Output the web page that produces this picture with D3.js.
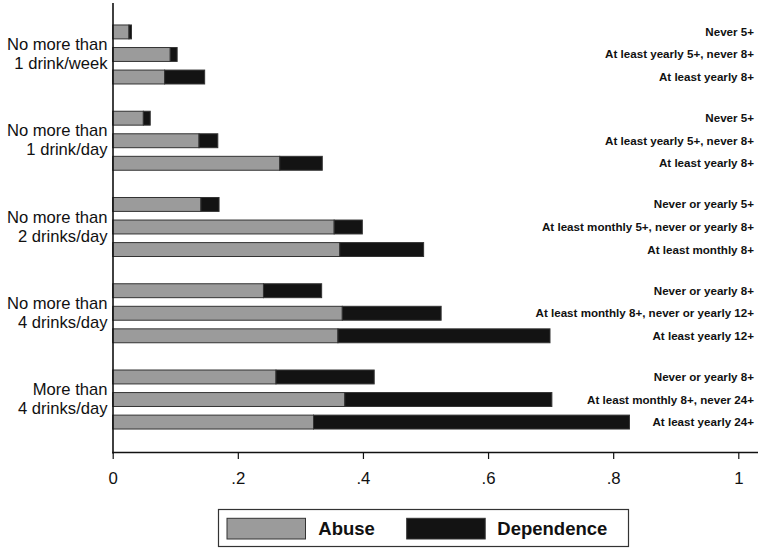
<!DOCTYPE html>
<html>
<head>
<meta charset="utf-8">
<script src="https://cdn.jsdelivr.net/npm/d3@7"></script>
<style>
  html, body { margin: 0; padding: 0; background: #fff; }
  svg { display: block; font-family: "Liberation Sans", Arial, sans-serif; }
</style>
</head>
<body>
<svg id="chart" width="761" height="548"></svg>
<script>
const groups = [
  ["No more than", "1 drink/week"],
  ["No more than", "1 drink/day"],
  ["No more than", "2 drinks/day"],
  ["No more than", "4 drinks/day"],
  ["More than", "4 drinks/day"]
];
const groupKeys = ["g1", "g2", "g3", "g4", "g5"];
const subLabels = [
  ["Never 5+", "At least yearly 5+, never 8+", "At least yearly 8+"],
  ["Never 5+", "At least yearly 5+, never 8+", "At least yearly 8+"],
  ["Never or yearly 5+", "At least monthly 5+, never or yearly 8+", "At least monthly 8+"],
  ["Never or yearly 8+", "At least monthly 8+, never or yearly 12+", "At least yearly 12+"],
  ["Never or yearly 8+", "At least monthly 8+, never 24+", "At least yearly 24+"]
];
const abuse = [
  [0.026, 0.092, 0.083],
  [0.049, 0.138, 0.267],
  [0.141, 0.354, 0.363],
  [0.241, 0.367, 0.360],
  [0.261, 0.371, 0.321]
];
const dependence = [
  [0.004, 0.011, 0.064],
  [0.011, 0.030, 0.068],
  [0.029, 0.045, 0.134],
  [0.093, 0.158, 0.339],
  [0.157, 0.331, 0.505]
];
const xTicks = [0, 0.2, 0.4, 0.6, 0.8, 1];
const xTickLabels = ["0", ".2", ".4", ".6", ".8", "1"];
const seriesNames = ["Abuse", "Dependence"];
const colors = ["#9b9b9b", "#131313"];

const svg = d3.select("#chart");
const x = d3.scaleLinear().domain([0, 1]).range([112.7, 738.3]);
const y = d3.scaleBand().domain(groupKeys).range([11.35, 442.65])
  .paddingInner(0.316).paddingOuter(0.158);
const yInner = d3.scaleBand().domain([0, 1, 2]).range([0, y.bandwidth()])
  .paddingInner(0.383).paddingOuter(0);

// bars
groupKeys.forEach((gk, gi) => {
  const g = svg.append("g").attr("transform", `translate(0,${y(gk)})`);
  [0, 1, 2].forEach(bi => {
    const a = abuse[gi][bi], d = dependence[gi][bi];
    const yy = yInner(bi), h = yInner.bandwidth();
    g.append("rect")
      .attr("x", x(0)).attr("y", yy)
      .attr("width", x(a) - x(0)).attr("height", h)
      .attr("fill", colors[0]).attr("stroke", "#333").attr("stroke-width", 1);
    g.append("rect")
      .attr("x", x(a)).attr("y", yy)
      .attr("width", x(a + d) - x(a)).attr("height", h)
      .attr("fill", colors[1]).attr("stroke", "#333").attr("stroke-width", 1);
    g.append("text")
      .attr("x", 754).attr("y", yy + h / 2 + 4)
      .attr("text-anchor", "end")
      .attr("font-size", 11.6).attr("font-weight", "bold").attr("fill", "#111")
      .text(subLabels[gi][bi]);
  });
  // group label (two lines)
  const cy = y(gk) + yInner(1) + yInner.bandwidth() / 2;
  const t = svg.append("text").attr("text-anchor", "end").attr("font-size", 16.6).attr("fill", "#111");
  t.append("tspan").attr("x", 107.5).attr("y", cy - 4.4).text(groups[gi][0]);
  t.append("tspan").attr("x", 107.5).attr("y", cy + 14.6).text(groups[gi][1]);
});

// y axis line
svg.append("line").attr("x1", 113).attr("x2", 113).attr("y1", 3).attr("y2", 453.5)
  .attr("stroke", "#111").attr("stroke-width", 1.6);

// x axis
const xAxis = svg.append("g").attr("transform", "translate(0,452.5)")
  .call(d3.axisBottom(x).tickValues(xTicks).tickFormat((d, i) => xTickLabels[i]).tickSize(6.5).tickSizeOuter(0));
xAxis.select(".domain").remove();
xAxis.append("line").attr("x1", 112.3).attr("x2", 758).attr("y1", 0).attr("y2", 0)
  .attr("stroke", "#111").attr("stroke-width", 1.6);
xAxis.selectAll(".tick line").attr("stroke", "#111").attr("stroke-width", 1.2);
xAxis.selectAll(".tick text").attr("font-size", 16.8).attr("fill", "#111")
  .attr("font-family", "'Liberation Sans', Arial, sans-serif").attr("dy", null).attr("y", 31.5);

// legend
const lg = svg.append("g");
lg.append("rect").attr("x", 218.5).attr("y", 509.5).attr("width", 410).attr("height", 37)
  .attr("fill", "#fff").attr("stroke", "#333").attr("stroke-width", 1.2);
const legX = [227, 406.7];
const legTX = [318.3, 497.3];
seriesNames.forEach((s, i) => {
  lg.append("rect").attr("x", legX[i]).attr("y", 518.3).attr("width", 78.5).attr("height", 20.7)
    .attr("fill", colors[i]).attr("stroke", "#333").attr("stroke-width", 1);
  lg.append("text").attr("x", legTX[i]).attr("y", 535).attr("font-size", 18.5)
    .attr("font-weight", "bold").attr("fill", "#111").text(s);
});
</script>
</body>
</html>
